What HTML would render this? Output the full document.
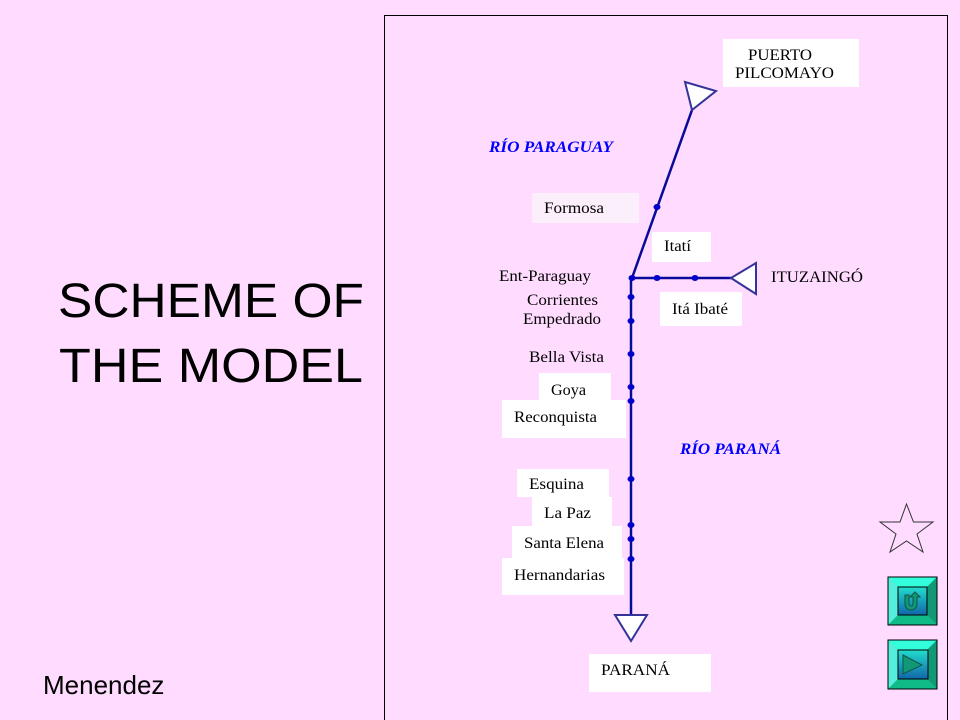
<!DOCTYPE html>
<html><head><meta charset="utf-8"><style>
html,body{margin:0;padding:0;background:#ffdcff;}
svg{display:block}
.t{font-family:"Liberation Serif",serif;font-size:16px;fill:#000}
.b{font-family:"Liberation Serif",serif;font-size:16px;font-weight:bold;font-style:italic;fill:#0000ff}
</style></head><body>
<svg width="960" height="720" viewBox="0 0 960 720" xmlns="http://www.w3.org/2000/svg">
<rect width="960" height="720" fill="#ffdcff"/>
<text x="58" y="317" font-family="Liberation Sans,Arial,sans-serif" font-size="48" fill="#000" textLength="306" lengthAdjust="spacingAndGlyphs">SCHEME OF</text>
<text x="59" y="382" font-family="Liberation Sans,Arial,sans-serif" font-size="48" fill="#000" textLength="304" lengthAdjust="spacingAndGlyphs">THE MODEL</text>
<text x="43" y="694" font-family="Liberation Sans,Arial,sans-serif" font-size="26" fill="#000">Menendez</text>
<rect x="384.5" y="15.5" width="563" height="705" fill="none" stroke="#000" stroke-width="1"/>
<g fill="#fff">
<rect x="723" y="39" width="136" height="48"/>
<rect x="532" y="193" width="107" height="30" fill="#fbeffb"/>
<rect x="652" y="232" width="59" height="30"/>
<rect x="660" y="292" width="82" height="34"/>
<rect x="539" y="373" width="72" height="27"/>
<rect x="502" y="400" width="124" height="38"/>
<rect x="517" y="469" width="92" height="28"/>
<rect x="532" y="497" width="80" height="29"/>
<rect x="512" y="526" width="110" height="32"/>
<rect x="502" y="558" width="122" height="37"/>
<rect x="589" y="654" width="122" height="38"/>
</g>
<g stroke="#0a0a9a" stroke-width="2.5" fill="none">
<line x1="632" y1="278" x2="692" y2="110"/>
<line x1="632" y1="278" x2="731" y2="278"/>
<line x1="631" y1="278" x2="631" y2="615"/>
</g>
<g fill="#fff" stroke="#333399" stroke-width="2">
<polygon points="685,82 716,91 692,110"/>
<polygon points="731,278 756,263 756,294"/>
<polygon points="615,615 647,615 631,641"/>
</g>
<g fill="#0000cc">
<ellipse cx="657" cy="207" rx="3.5" ry="3"/>
<ellipse cx="632" cy="278" rx="3.5" ry="3"/>
<ellipse cx="657" cy="278" rx="3.5" ry="3"/>
<ellipse cx="695" cy="278" rx="3.5" ry="3"/>
<ellipse cx="631" cy="297" rx="3.5" ry="3"/>
<ellipse cx="631" cy="321" rx="3.5" ry="3"/>
<ellipse cx="631" cy="354" rx="3.5" ry="3"/>
<ellipse cx="631" cy="387" rx="3.5" ry="3"/>
<ellipse cx="631" cy="401" rx="3.5" ry="3"/>
<ellipse cx="631" cy="479" rx="3.5" ry="3"/>
<ellipse cx="631" cy="525" rx="3.5" ry="3"/>
<ellipse cx="631" cy="539" rx="3.5" ry="3"/>
<ellipse cx="631" cy="559" rx="3.5" ry="3"/>
</g>
<text class="t" x="748" y="60" textLength="64" lengthAdjust="spacingAndGlyphs">PUERTO</text>
<text class="t" x="735" y="78" textLength="99" lengthAdjust="spacingAndGlyphs">PILCOMAYO</text>
<text class="b" x="489" y="152" textLength="124" lengthAdjust="spacingAndGlyphs">RÍO PARAGUAY</text>
<text class="t" x="544" y="213" textLength="60" lengthAdjust="spacingAndGlyphs">Formosa</text>
<text class="t" x="664" y="251" textLength="27" lengthAdjust="spacingAndGlyphs">Itatí</text>
<text class="t" x="499" y="281" textLength="92" lengthAdjust="spacingAndGlyphs">Ent-Paraguay</text>
<text class="t" x="771" y="282" textLength="92" lengthAdjust="spacingAndGlyphs">ITUZAINGÓ</text>
<text class="t" x="527" y="305" textLength="71" lengthAdjust="spacingAndGlyphs">Corrientes</text>
<text class="t" x="523" y="324" textLength="78" lengthAdjust="spacingAndGlyphs">Empedrado</text>
<text class="t" x="672" y="314" textLength="56" lengthAdjust="spacingAndGlyphs">Itá Ibaté</text>
<text class="t" x="529" y="362" textLength="75" lengthAdjust="spacingAndGlyphs">Bella Vista</text>
<text class="t" x="551" y="395" textLength="35" lengthAdjust="spacingAndGlyphs">Goya</text>
<text class="t" x="514" y="422" textLength="83" lengthAdjust="spacingAndGlyphs">Reconquista</text>
<text class="b" x="680" y="454" textLength="101" lengthAdjust="spacingAndGlyphs">RÍO PARANÁ</text>
<text class="t" x="529" y="489" textLength="55" lengthAdjust="spacingAndGlyphs">Esquina</text>
<text class="t" x="544" y="518" textLength="47" lengthAdjust="spacingAndGlyphs">La Paz</text>
<text class="t" x="524" y="548" textLength="80" lengthAdjust="spacingAndGlyphs">Santa Elena</text>
<text class="t" x="514" y="580" textLength="91" lengthAdjust="spacingAndGlyphs">Hernandarias</text>
<text class="t" x="601" y="675" textLength="69" lengthAdjust="spacingAndGlyphs">PARANÁ</text>
<polygon points="906.5,504 913.5,522 933,522 917,534 923,552 906.5,541 890,552 896,534 880,522 900,522" fill="none" stroke="#333" stroke-width="1"/>
<defs><linearGradient id="g" x1="0" y1="0" x2="0" y2="1"><stop offset="0" stop-color="#22ddcc"/><stop offset="1" stop-color="#1166aa"/></linearGradient></defs>
<g>
<rect x="888" y="577" width="49" height="48" fill="#22cc99" stroke="#000"/>
<polygon points="888,577 937,577 926,588 899,588" fill="#33ffdd"/>
<polygon points="888,577 899,588 899,614 888,625" fill="#55eedd"/>
<polygon points="937,577 926,588 926,614 937,625" fill="#119977"/>
<polygon points="888,625 899,614 926,614 937,625" fill="#11bb88"/>
<rect x="898" y="587" width="29" height="28" fill="url(#g)" stroke="#000"/>
<path d="M905,595 v9 a6,6 0 0 0 12,0 v-7 h3 l-5,-5 l-5,5 h3 v7 a2,2 0 0 1 -4,0 v-9 z" fill="#119977" stroke="#115544" stroke-width="1"/>
<rect x="888" y="577" width="49" height="48" fill="none" stroke="#000"/>
</g>
<g>
<rect x="888" y="640" width="49" height="49" fill="#22cc99" stroke="#000"/>
<polygon points="888,640 937,640 926,651 899,651" fill="#33ffdd"/>
<polygon points="888,640 899,651 899,678 888,689" fill="#55eedd"/>
<polygon points="937,640 926,651 926,678 937,689" fill="#119977"/>
<polygon points="888,689 899,678 926,678 937,689" fill="#11bb88"/>
<rect x="898" y="650" width="30" height="29" fill="url(#g)" stroke="#000"/>
<polygon points="903,655 922,665 903,674" fill="#119977" stroke="#115544"/>
<rect x="888" y="640" width="49" height="49" fill="none" stroke="#000"/>
</g>
</svg>
</body></html>
